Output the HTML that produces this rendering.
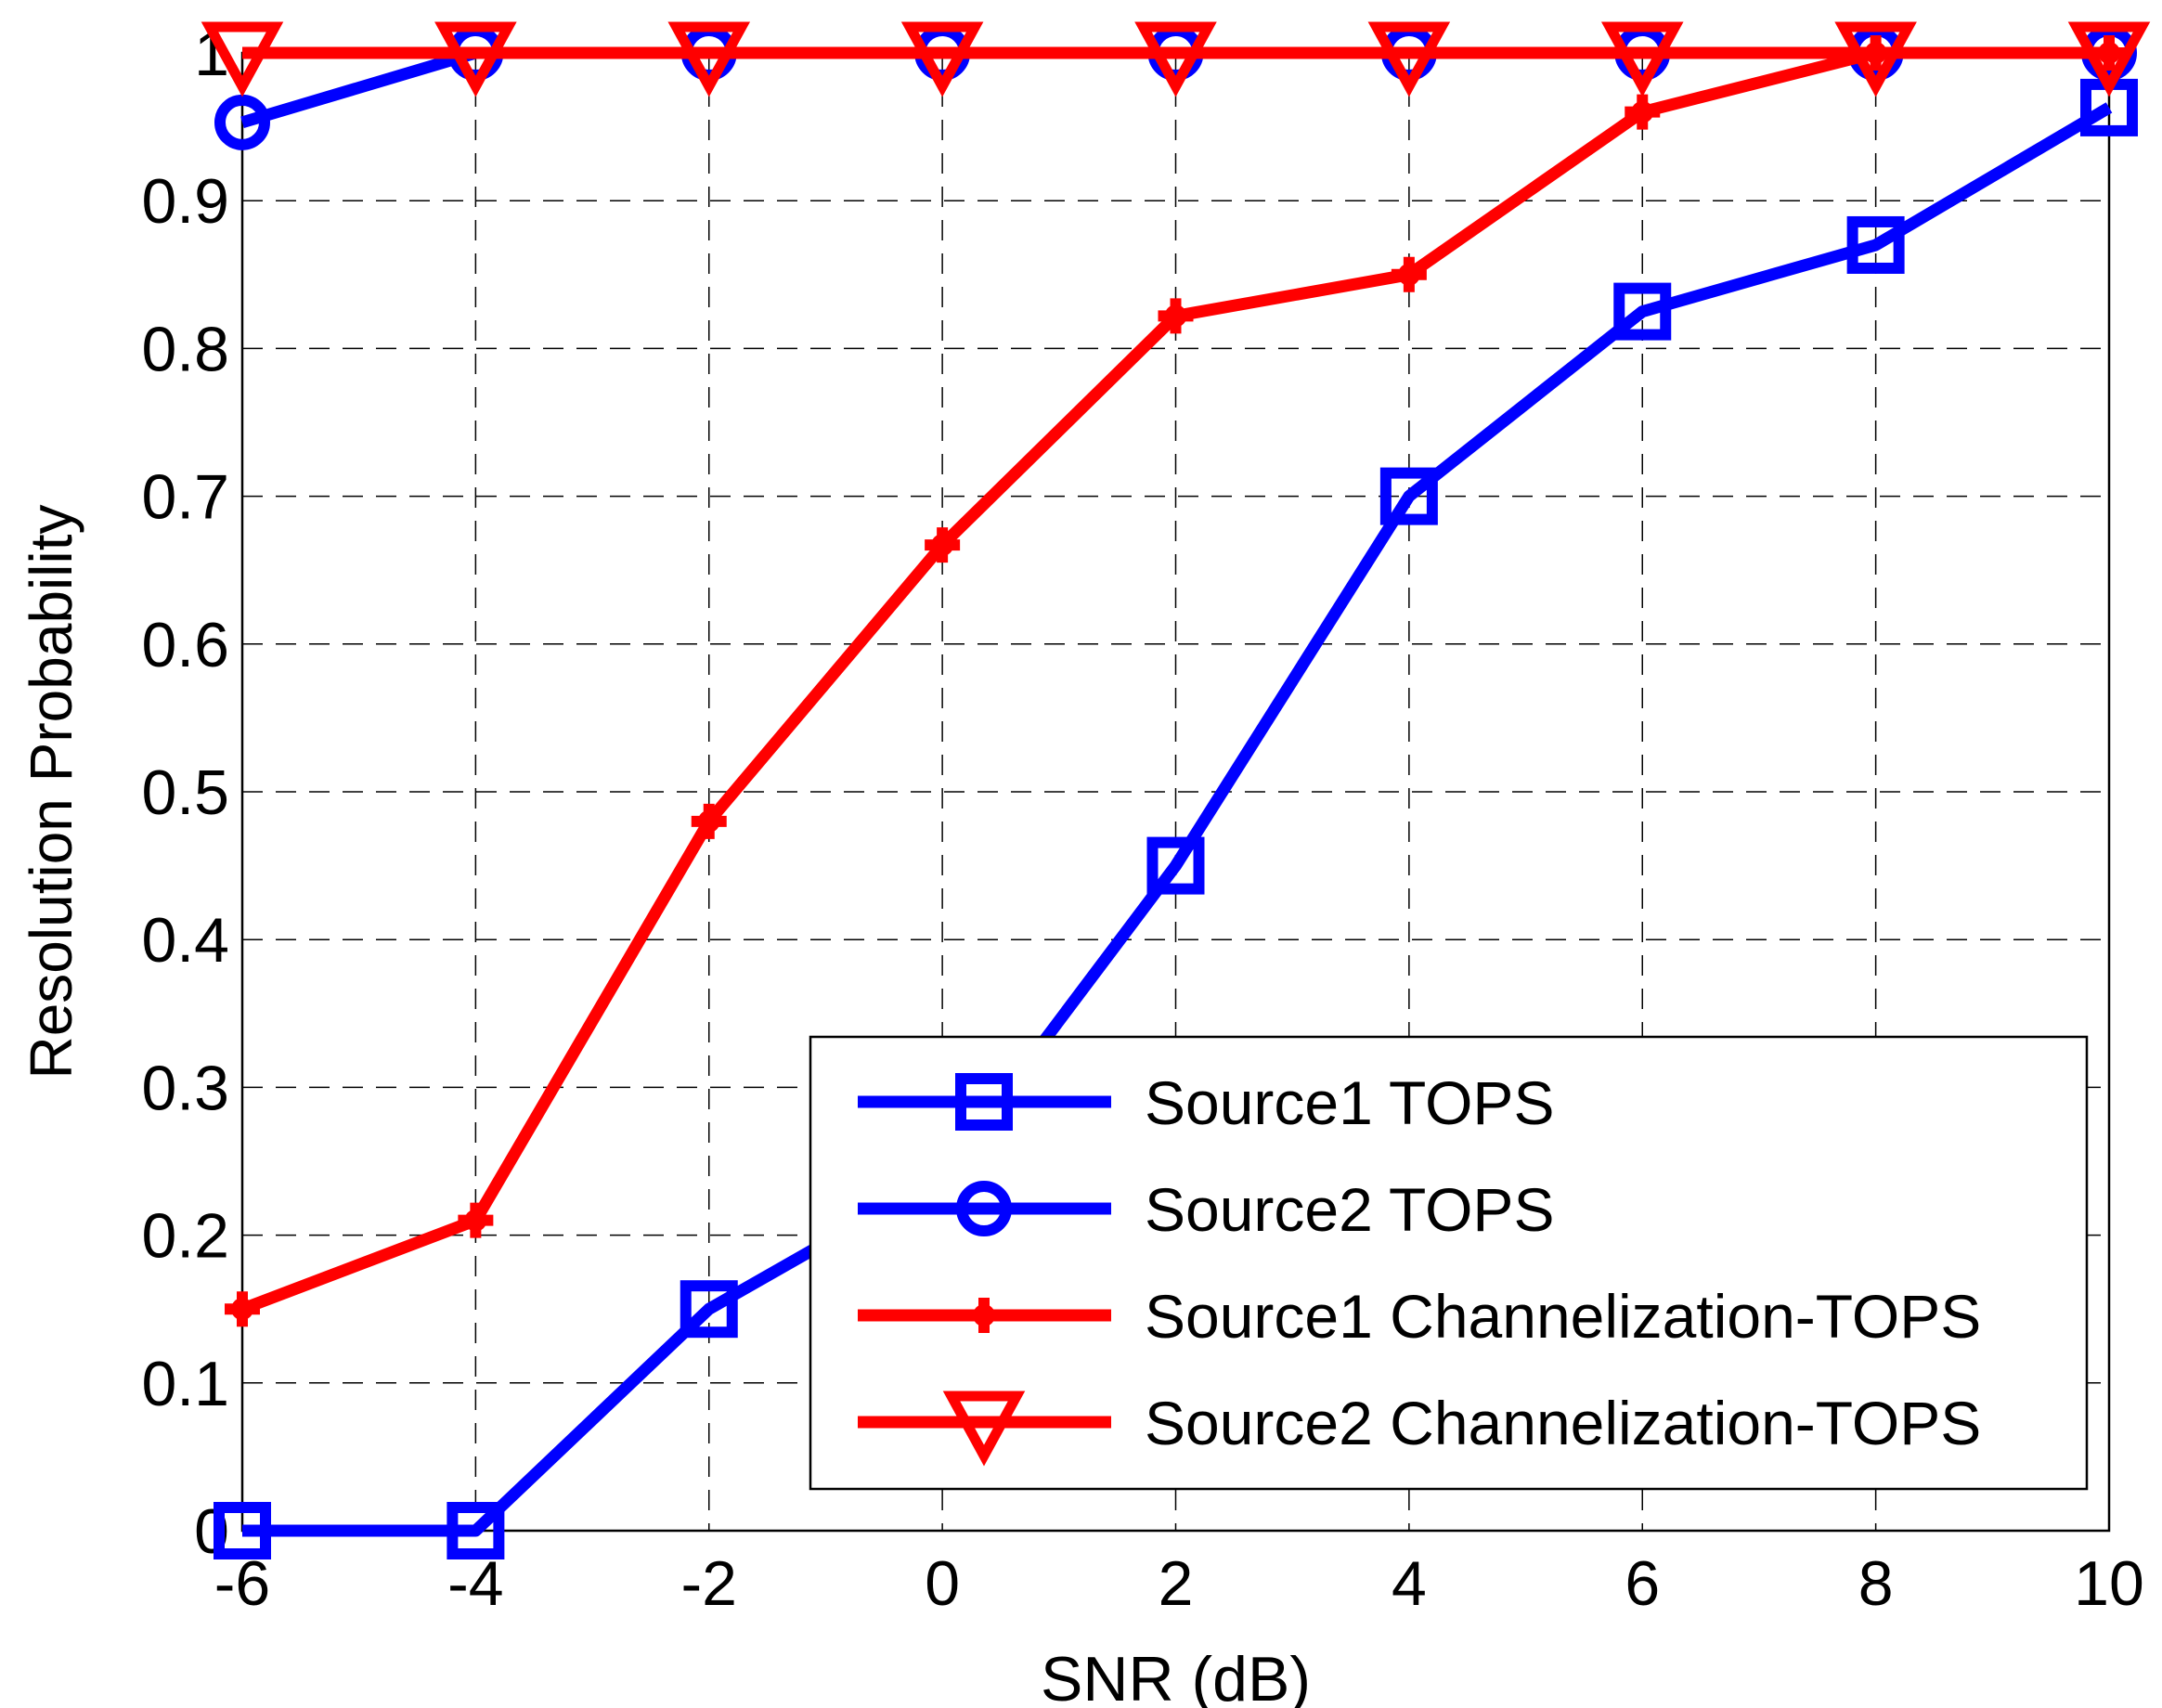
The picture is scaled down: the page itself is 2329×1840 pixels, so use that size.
<!DOCTYPE html>
<html><head><meta charset="utf-8"><style>body{margin:0;background:#fff}svg{display:block}text{font-family:"Liberation Sans",sans-serif;fill:#000}</style></head>
<body>
<svg id="chart" width="2329" height="1840" viewBox="0 0 2329 1840" xmlns="http://www.w3.org/2000/svg">
<g id="grid"></g>
<g id="axes"></g>
<g id="series"></g>
<g id="legend"></g>
</svg>
<script>
const snr = [-6,-4,-2,0,2,4,6,8,10];
const xTicks = [-6,-4,-2,0,2,4,6,8,10];
const yTicks = [0,0.1,0.2,0.3,0.4,0.5,0.6,0.7,0.8,0.9,1];
const yTickLabels = ['0','0.1','0.2','0.3','0.4','0.5','0.6','0.7','0.8','0.9','1'];
const s1Tops = [0,0,0.15,0.24,0.45,0.70,0.825,0.87,0.963];
const s2Tops = [0.953,1,1,1,1,1,1,1,1];
const s1Chan = [0.15,0.21,0.48,0.667,0.822,0.85,0.96,1,1];
const s2Chan = [1,1,1,1,1,1,1,1,1];
const seriesNames = ['Source1 TOPS','Source2 TOPS','Source1 Channelization-TOPS','Source2 Channelization-TOPS'];

const NS='http://www.w3.org/2000/svg';
const X0=261,X1=2272,Y0=1649,Y1=57;
const xs=v=>X0+(v+6)/16*(X1-X0);
const ys=v=>Y0-v*(Y0-Y1);
function mk(tag,attrs,parent){const e=document.createElementNS(NS,tag);for(const k in attrs)e.setAttribute(k,attrs[k]);parent.appendChild(e);return e;}
const grid=document.getElementById('grid'),axes=document.getElementById('axes'),ser=document.getElementById('series'),leg=document.getElementById('legend');

xTicks.forEach((t,i)=>{
  if(i>0&&i<xTicks.length-1){const l=mk('line',{x1:xs(t),x2:xs(t),y1:Y1,y2:Y0,stroke:'#000','stroke-width':1.5,'stroke-dasharray':'22,14'},grid);
  
  }
  const tx=mk('text',{x:xs(t),y:Y0+80,'font-size':68,'text-anchor':'middle'},axes);tx.textContent=t;
  
  
});
yTicks.forEach((t,i)=>{
  if(i>0&&i<yTicks.length-1){const l=mk('line',{x1:X0,x2:X1,y1:ys(t),y2:ys(t),stroke:'#000','stroke-width':1.5,'stroke-dasharray':'22,14'},grid);
  
  }
  const tx=mk('text',{x:X0-14,y:ys(t)+24,'font-size':68,'text-anchor':'end'},axes);tx.textContent=yTickLabels[i];
  
  
});
const box=mk('rect',{x:X0,y:Y1,width:X1-X0,height:Y0-Y1,fill:'none',stroke:'#000','stroke-width':2.5},axes);


const xl=mk('text',{x:(X0+X1)/2,y:1832,'font-size':68,'text-anchor':'middle'},axes);xl.textContent='SNR (dB)';


const yl=mk('text',{x:0,y:0,'font-size':64,'text-anchor':'middle',transform:'translate(77,853) rotate(-90)'},axes);yl.textContent='Resolution Probability';



function marker(type,color,x,y,g){
  let e;
  if(type==='square')e=mk('rect',{x:x-25,y:y-25,width:50,height:50,fill:'none',stroke:color,'stroke-width':12},g);
  else if(type==='circle')e=mk('circle',{cx:x,cy:y,r:24,fill:'none',stroke:color,'stroke-width':12},g);
  else if(type==='plus'){e=mk('path',{d:`M${x-19} ${y}H${x+19}M${x} ${y-19}V${y+19}`,stroke:color,'stroke-width':12},g);mk('circle',{cx:x,cy:y,r:12,fill:color},g);}
  else e=mk('path',{d:`M${x-35} ${y-28}H${x+35}L${x} ${y+36}Z`,fill:'none',stroke:color,'stroke-width':11,'stroke-linejoin':'miter'},g);
  
  
}
const defs=[[s1Tops,'#0000ff','square'],[s2Tops,'#0000ff','circle'],[s1Chan,'#ff0000','plus'],[s2Chan,'#ff0000','triangle']];
defs.forEach(([vals,c,m],si)=>{
  const g=mk('g',{},ser);
  
  
  const p=mk('polyline',{points:vals.map((v,i)=>xs(snr[i])+','+ys(v)).join(' '),fill:'none',stroke:c,'stroke-width':13,'stroke-linejoin':'round'},g);
  
  
  vals.forEach((v,i)=>marker(m,c,xs(snr[i]),ys(v),g));
});
const lb=mk('rect',{x:873,y:1117,width:1375,height:487,fill:'#fff',stroke:'#000','stroke-width':2.5},leg);


const ly=[1187,1302,1417,1532];
defs.forEach(([vals,c,m],i)=>{
  const g=mk('g',{},leg);
  
  
  mk('line',{x1:924,x2:1197,y1:ly[i],y2:ly[i],stroke:c,'stroke-width':13},g);
  marker(m,c,1060,ly[i],g);
  const t=mk('text',{x:1233,y:ly[i]+24,'font-size':66},g);t.textContent=seriesNames[i];
  
  
});
</script>
</body></html>
